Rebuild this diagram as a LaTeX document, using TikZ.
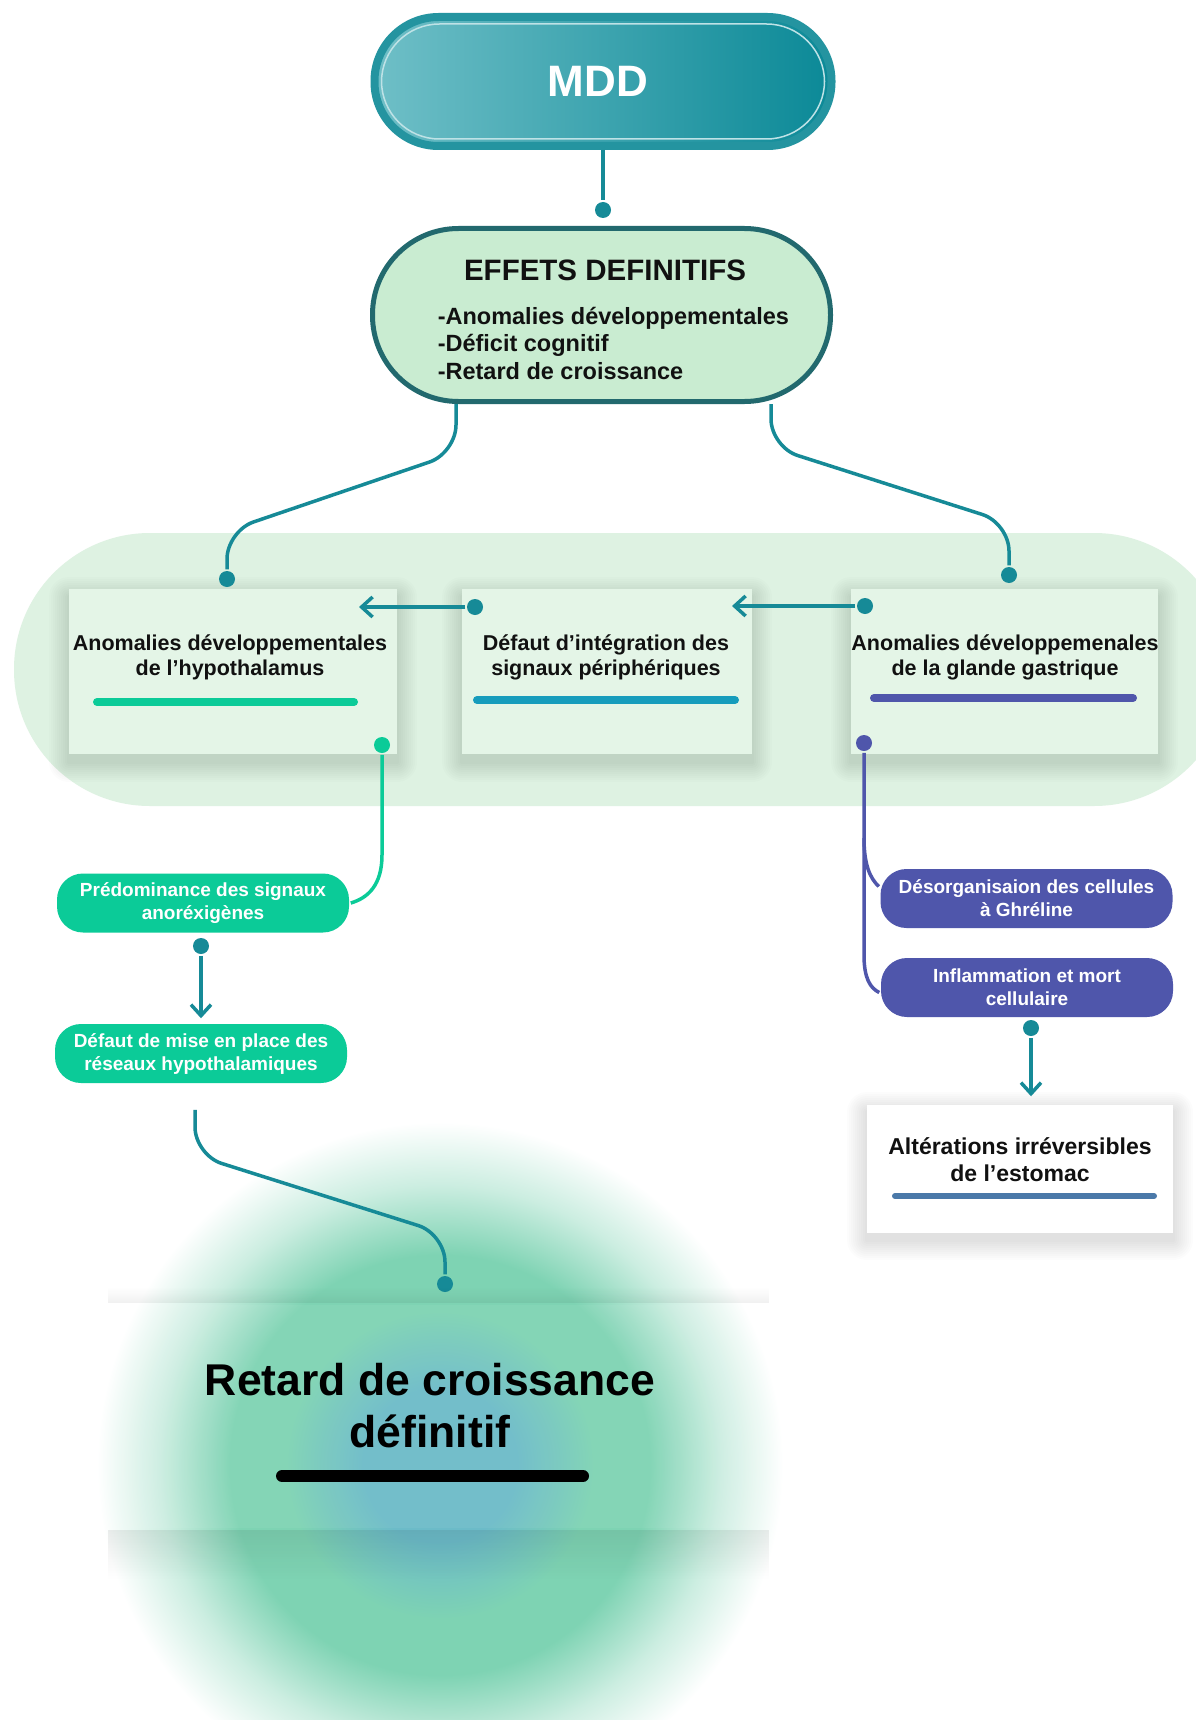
\documentclass[tikz,border=0pt]{standalone}
\usepackage{fontspec}
\setmainfont{Liberation Sans}
\usetikzlibrary{arrows.meta, calc, fadings}
\definecolor{cteal}{HTML}{168A97}
\definecolor{cmddL}{HTML}{6FBFC7}
\definecolor{cmddR}{HTML}{0B8997}
\definecolor{cmddB}{HTML}{2494A0}
\definecolor{ceff}{HTML}{C9ECD1}
\definecolor{ceffB}{HTML}{22696E}
\definecolor{cband}{HTML}{DEF2E2}
\definecolor{ccard}{HTML}{E4F5E7}
\definecolor{cgreen}{HTML}{0BCB98}
\definecolor{cblue}{HTML}{169CBC}
\definecolor{cpurple}{HTML}{4F56AB}
\definecolor{csteel}{HTML}{4B79A9}
\definecolor{cglowC}{HTML}{6CBBC8}
\definecolor{cglowM}{HTML}{7ED3B3}
\definecolor{cink}{HTML}{111111}
\newcommand\fsz[2]{\fontsize{#1}{#2}\selectfont}
\pgfdeclareradialshading{glow}{\pgfpoint{0bp}{0bp}}{color(0bp)=(cglowC); color(5.5bp)=(cglowC); color(11bp)=(cglowM); color(15bp)=(cglowM); color(20bp)=(cglowM!40!white); color(24.5bp)=(white); color(50bp)=(white)}
\tikzset{
  every picture/.style={line width=3.5pt},
  mddbox/.style={rounded corners=64pt, minimum width=457pt, minimum height=129pt, left color=cmddL, right color=cmddR, draw=cmddB, line width=8pt, text=white, font=\bfseries\fsz{44}{50}},
  effbox/.style={rounded corners=86pt, minimum width=458pt, minimum height=173pt, fill=ceff, draw=ceffB, line width=5pt},
  card/.style={fill=ccard, minimum width=#1, minimum height=165pt, inner sep=0pt},
  soft/.style={black, opacity=.011},
  cardtxt/.style={font=\bfseries\fsz{21.5}{25}, text=cink, align=center},
  bar/.style={draw=#1, line width=8pt, line cap=round},
  pill/.style={fill=#1, rounded corners=26pt, minimum width=292pt, minimum height=59pt, inner sep=0pt, font=\bfseries\fsz{19}{23}, text=white, align=center},
  dot/.style={circle, fill=#1, inner sep=0pt, minimum size=16pt},
  dot/.default=cteal,
  link/.style={draw=cteal, line width=3.5pt},
  arrow/.style={link, -{Straight Barb[length=11pt, width=20pt]}},
}

\begin{document}
\begin{tikzpicture}[x=1pt, y=-1pt]
  \fill[white] (0,0) rectangle (1195,1720);
  \useasboundingbox (0,0) rectangle (1195,1720);
  % glow behind the last card, and the band behind the three cards
  \shade[shading=glow] (440,1465) circle (350);
  \fill[cband, rounded corners=136pt] (14,533) rectangle (1230,806);
  % top of the chart
  \node[mddbox] (mdd) at (603,81.5) {MDD\hspace*{10pt}};
  \node[draw=cmddL!45!white, line width=1.5pt, rounded corners=58pt, minimum width=443pt, minimum height=115pt] (mddin) at (mdd) {};
  \node[dot] (d0) at (603,210) {};
  \draw[link] (mdd) -- (d0);
  \node[effbox] (eff) at (601.5,315) {};
  \node[font=\bfseries\fsz{29.5}{34}, text=cink] (effT) at (605,270) {EFFETS DEFINITIFS};
  \node[font=\bfseries\fsz{23.5}{27.5}, text=cink, align=left, anchor=west, inner sep=0pt] (effL) at (436,343) {-Anomalies développementales\\-Déficit cognitif\\-Retard de croissance};
  % the three cards on the band, each with a soft shadow
  \foreach \n/\x/\w/\tx/\t in {1/233/328/230/{Anomalies développementales\\de l’hypothalamus},
      2/607/290/606/{Défaut d’intégration des\\signaux périphériques},
      3/1004.5/307/1005/{Anomalies développemenales\\de la glande gastrique}} {
    \foreach \s in {2,4,...,20}
      \fill[soft, rounded corners=\s pt] (\x-\w/2-\s,597-\s) rectangle (\x+\w/2+\s,762+\s);
    \node[card=\w pt] (c\n) at (\x,671.5) {};
    \node[cardtxt] (t\n) at (\tx,657) {\t};
  }
  \foreach \a/\b/\y/\c in {93/358/702/cgreen, 473/739/700/cblue, 870/1137/698/cpurple}
    \draw[bar=\c] (\a+4,\y) -- (\b-4,\y);
  \node[dot] (d1) at (227,579) {};
  \node[dot] (d2) at (1009,575) {};
  \draw[link, rounded corners=28pt] ([xshift=-145.5pt]eff.south) -- (456,453) -- (227,531) -- (d1);
  \draw[link, rounded corners=28pt] ([xshift=169.5pt]eff.south) -- (771,447) -- (1009,523) -- (d2);
  \node[dot] (d3) at (475,607) {};
  \node[dot] (d4) at (865,606) {};
  \coordinate (a3) at (359,607);
  \coordinate (a4) at (732,606);
  \draw[arrow] (d3) -- (a3);
  \draw[arrow] (d4) -- (a4);
  % left branch
  \node[pill=cgreen] (pred) at (203,903) {Prédominance des signaux\\anoréxigènes};
  \node[pill=cgreen] (defaut) at (201,1053.5) {Défaut de mise en place des\\réseaux hypothalamiques};
  \node[dot=cgreen] (d5) at (382,745) {};
  \draw[link, draw=cgreen] (d5) -- (382,855) .. controls (382,885) and (368,898) .. (pred.east);
  \node[dot] (d6) at (201,946) {};
  \draw[arrow, shorten >=4pt] (d6) -- (defaut.north);
  % right branch
  \node[pill=cpurple] (desorg) at (1026.5,898.5) {Désorganisaion des cellules\\à Ghréline};
  \node[pill=cpurple] (inflam) at (1027,987.5) {Inflammation et mort\\cellulaire};
  \node[dot=cpurple] (d7) at (864,743) {};
  \draw[link, draw=cpurple] (d7) -- (864,955) .. controls (864,978) and (870,988) .. ([yshift=-5pt]inflam.west);
  \draw[link, draw=cpurple] (864,838) .. controls (864,865) and (870,878) .. ([yshift=12pt]desorg.west);
  \node[dot] (d8) at (1031,1028) {};
  \foreach \s in {2,4,...,20}
    \fill[soft, rounded corners=\s pt] (867-\s,1112-\s) rectangle (1173+\s,1240+\s);
  \node[card=306pt, fill=white, minimum height=128pt] (alter) at (1020,1169) {};
  \node[cardtxt, font=\bfseries\fsz{23}{27}] (t4) at (1020,1159.5) {Altérations irréversibles\\de l’estomac};
  \draw[bar=csteel, line width=6pt] (895,1196) -- (1154,1196);
  \draw[arrow, shorten >=7pt] (d8) -- (d8 |- alter.north);
  % last card
  \node[dot] (d9) at (445,1284) {};
  \draw[link, rounded corners=28pt, shorten <=25pt] ([xshift=-6pt]defaut.south) -- (195,1155) -- (445,1234) -- (d9);
  \node[fill=white, fill opacity=.05, minimum width=658pt, minimum height=223pt, inner sep=0pt] (final) at (439,1416.5) {};
  \fill[black, opacity=.07, path fading=south] (final.south west) rectangle ($(final.south east)+(0,50)$);
  \fill[black, opacity=.06, path fading=north] (final.north west) rectangle ($(final.north east)+(0,-16)$);
  \node[font=\bfseries\fsz{44.5}{52}, text=black, align=center] (t5) at (430,1406) {Retard de croissance\\définitif};
  \draw[line width=12pt, line cap=round] (282,1476) -- (583,1476);
\end{tikzpicture}
\end{document}
